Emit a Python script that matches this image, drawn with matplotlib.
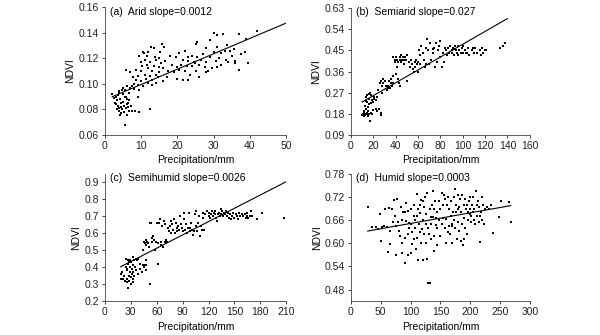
# NDVI vs precipitation in four climate zones, fitted line per zone
import numpy as np
import matplotlib
matplotlib.use('Agg')
import matplotlib.pyplot as plt

# (precipitation mm, NDVI)
arid_pts = np.array([
    (2, 0.092), (2.5, 0.089), (3, 0.084), (3, 0.090), (3.2, 0.087), (3.5, 0.083), (3.5, 0.091),
    (3.8, 0.081), (4, 0.079), (4, 0.094), (4.2, 0.088), (4.3, 0.085), (4.5, 0.077), (4.5, 0.082),
    (4.8, 0.080), (5, 0.086), (5, 0.092), (5, 0.097), (5.2, 0.078), (5.3, 0.083), (5.5, 0.068),
    (5.5, 0.090), (5.6, 0.095), (5.8, 0.081), (5.8, 0.111), (6, 0.084), (6, 0.076), (6.2, 0.088),
    (6.3, 0.082), (6.5, 0.079), (6.5, 0.093), (6.7, 0.087), (6.8, 0.109), (7, 0.097), (7.2, 0.083),
    (7.5, 0.079), (3.8, 0.093), (2.8, 0.085), (4.6, 0.095), (5.9, 0.090), (6.1, 0.098), (4.1, 0.076),
    (3.3, 0.080), (6.4, 0.085),
    (7.5, 0.098), (8, 0.100), (8, 0.096), (8.5, 0.103), (8.5, 0.111), (9, 0.099), (9, 0.106),
    (9.5, 0.122), (9.5, 0.095), (9.2, 0.090), (10, 0.102), (10, 0.110), (10.2, 0.114), (10.5, 0.125),
    (10.5, 0.098), (11, 0.119), (11, 0.107), (11.3, 0.104), (11.5, 0.122), (11.8, 0.101), (12, 0.112),
    (12, 0.125), (12.3, 0.106), (12.5, 0.117), (12.5, 0.080), (12.8, 0.129), (13, 0.103), (13, 0.110),
    (13.5, 0.128), (13.5, 0.114), (14, 0.101), (14, 0.107), (14.2, 0.119), (14.5, 0.105), (14.8, 0.113),
    (15, 0.120), (15, 0.109), (15.5, 0.116), (15.8, 0.131), (16, 0.102), (16, 0.112), (16.3, 0.129),
    (16.5, 0.118), (17, 0.105), (17.5, 0.110), (18, 0.122), (18.5, 0.115), (19, 0.109), (19.5, 0.121),
    (19.8, 0.104), (20, 0.113), (9.5, 0.078), (8.2, 0.079), (11.7, 0.115), (13.8, 0.121), (10.8, 0.124),
    (7.8, 0.105), (9.8, 0.117), (15.2, 0.125), (12.9, 0.099),
    (20.3, 0.124), (20.5, 0.111), (21, 0.115), (21.5, 0.103), (21.5, 0.119), (22, 0.126), (22, 0.110),
    (22.5, 0.114), (23, 0.118), (23, 0.103), (23.5, 0.107), (24, 0.122), (24, 0.114), (24.5, 0.117),
    (25, 0.131), (25, 0.110), (25.5, 0.121), (25.5, 0.133), (26, 0.115), (26, 0.105), (26.5, 0.119),
    (27, 0.123), (27.5, 0.113), (28, 0.128), (28, 0.117), (28.5, 0.110), (29, 0.121), (29, 0.134),
    (29.5, 0.112), (30, 0.140), (30, 0.125), (30.5, 0.118), (31, 0.138), (31, 0.129), (31.5, 0.120),
    (32, 0.115), (32, 0.124), (32.5, 0.139), (33, 0.126), (33.5, 0.119), (34, 0.117), (34.5, 0.126),
    (35, 0.122), (35.5, 0.127), (36, 0.118), (36, 0.116), (37, 0.139), (37, 0.111), (37.5, 0.123),
    (38.5, 0.125), (39, 0.135), (39.5, 0.116), (42, 0.141), (24.8, 0.116), (22.8, 0.121), (27.8, 0.109),
    (30.8, 0.113), (33.8, 0.130),
])

semiarid_pts = np.array([
    (10, 0.175), (11, 0.178), (11.5, 0.172), (12, 0.180), (12, 0.19), (12.5, 0.175), (13, 0.20),
    (13, 0.25), (13.5, 0.18), (14, 0.185), (14, 0.23), (14.5, 0.26), (15, 0.17), (15, 0.21),
    (15.5, 0.19), (16, 0.178), (16, 0.245), (16.5, 0.22), (17, 0.15), (17, 0.27), (17.5, 0.185),
    (18, 0.225), (18, 0.26), (19, 0.24), (19.5, 0.195), (20, 0.23), (20.5, 0.25), (21, 0.245),
    (22, 0.24), (22, 0.20), (23, 0.25), (23.5, 0.19), (24, 0.28), (25, 0.20), (27, 0.175), (27, 0.185),
    (12.8, 0.215), (13.8, 0.235), (11.2, 0.185), (14.8, 0.175), (15.8, 0.265), (10.5, 0.18), (18.5, 0.18),
    (26, 0.31), (27, 0.32), (27.5, 0.30), (28, 0.27), (28.5, 0.33), (29, 0.31), (30, 0.32), (31, 0.30),
    (32, 0.28), (33, 0.30), (33.5, 0.29), (34, 0.32), (35, 0.29), (35.5, 0.31), (36, 0.33), (37, 0.30),
    (37.5, 0.31), (38, 0.42), (38, 0.34), (39, 0.41), (40, 0.42), (40.5, 0.35), (41, 0.41), (42, 0.40),
    (42, 0.33), (43, 0.31), (43.5, 0.42), (44, 0.41), (44, 0.30), (45, 0.43), (45, 0.40), (46, 0.41),
    (46.5, 0.42), (47, 0.39), (47.5, 0.41), (48, 0.42), (49, 0.41), (50, 0.32), (50, 0.43), (39.5, 0.40),
    (41.5, 0.38),
    (52, 0.40), (53, 0.38), (54, 0.41), (55, 0.39), (55.5, 0.37), (56, 0.36), (57, 0.40), (57.5, 0.38),
    (58, 0.41), (59, 0.39), (60, 0.40), (60, 0.36), (61, 0.45), (62, 0.43), (63, 0.47), (64, 0.44),
    (65, 0.41), (66, 0.38), (67, 0.39), (67, 0.46), (68, 0.50), (69, 0.45), (70, 0.39), (71, 0.48),
    (72, 0.41), (73, 0.44), (74, 0.46), (75, 0.38), (76, 0.48), (77, 0.40), (78, 0.45), (79, 0.47),
    (80, 0.49), (80, 0.42), (81, 0.38), (82, 0.44), (83, 0.40), (84, 0.46), (85, 0.45), (86, 0.43),
    (87, 0.46), (88, 0.44), (89, 0.47), (90, 0.45), (90, 0.44), (91, 0.46), (92, 0.43), (93, 0.47),
    (94, 0.45), (95, 0.44), (96, 0.47), (97, 0.45), (98, 0.44), (99, 0.46), (100, 0.47), (100, 0.44),
    (92.5, 0.455), (94.5, 0.44), (96, 0.43), (73.5, 0.455), (62, 0.39),
    (102, 0.45), (104, 0.44), (105, 0.46), (106, 0.43), (108, 0.45), (110, 0.44), (111, 0.46),
    (113, 0.44), (115, 0.45), (116, 0.43), (117, 0.46), (118, 0.44), (120, 0.45), (121, 0.45),
    (133, 0.46), (136, 0.47), (138, 0.48), (103, 0.44), (109, 0.46),
])

semihumid_pts = np.array([
    (18, 0.33), (19, 0.36), (20, 0.37), (21, 0.33), (22, 0.35), (23, 0.32), (24, 0.45), (24, 0.40),
    (25, 0.33), (25.5, 0.38), (26, 0.31), (26.5, 0.44), (27, 0.28), (27, 0.42), (27.5, 0.35), (28, 0.32),
    (28.5, 0.40), (29, 0.37), (29, 0.44), (30, 0.30), (30, 0.34), (30.5, 0.43), (31, 0.39), (31.5, 0.36),
    (32, 0.41), (32.5, 0.33), (33, 0.46), (33, 0.37), (34, 0.44), (34, 0.35), (35, 0.40), (35.5, 0.45),
    (36, 0.38), (37, 0.44), (38, 0.36), (38, 0.45), (40, 0.39), (41, 0.42), (43, 0.37), (44, 0.41),
    (45, 0.40), (46, 0.41), (47, 0.38), (48, 0.41), (28, 0.43), (26, 0.39), (32, 0.31),
    (44, 0.50), (45, 0.55), (46, 0.54), (47, 0.56), (48, 0.53), (49, 0.55), (50, 0.54), (51, 0.52),
    (52, 0.66), (52, 0.30), (53, 0.66), (54, 0.55), (55, 0.57), (56, 0.58), (57, 0.56), (58, 0.50),
    (59, 0.55), (60, 0.66), (61, 0.54), (62, 0.42), (63, 0.66), (64, 0.68), (65, 0.53), (65, 0.55),
    (66, 0.64), (67, 0.52), (68, 0.67), (69, 0.55), (70, 0.65), (71, 0.56), (72, 0.55), (73, 0.63),
    (74, 0.61), (75, 0.64), (76, 0.60), (77, 0.67), (78, 0.65), (79, 0.62), (80, 0.68), (48, 0.44),
    (81, 0.60), (82, 0.66), (83, 0.63), (84, 0.61), (85, 0.64), (86, 0.62), (87, 0.70), (88, 0.65),
    (89, 0.63), (90, 0.61), (91, 0.68), (92, 0.72), (93, 0.62), (94, 0.65), (95, 0.60), (96, 0.63),
    (97, 0.72), (98, 0.61), (99, 0.63), (100, 0.66), (101, 0.62), (102, 0.59), (103, 0.61), (104, 0.71),
    (105, 0.73), (106, 0.64), (107, 0.61), (108, 0.66), (109, 0.70), (110, 0.58), (111, 0.64),
    (112, 0.62), (113, 0.69), (114, 0.72), (115, 0.62), (116, 0.71), (118, 0.73), (120, 0.70),
    (121, 0.72), (122, 0.69), (123, 0.71), (124, 0.73), (125, 0.70), (126, 0.72), (127, 0.71),
    (128, 0.73), (129, 0.69), (130, 0.67), (131, 0.71), (132, 0.72), (133, 0.70), (134, 0.74),
    (135, 0.71), (136, 0.73), (137, 0.70), (138, 0.72), (139, 0.71), (140, 0.73),
    (141, 0.70), (142, 0.72), (144, 0.69), (145, 0.71), (146, 0.68), (147, 0.70), (148, 0.72),
    (150, 0.69), (152, 0.71), (153, 0.70), (155, 0.72), (157, 0.70), (159, 0.71), (160, 0.70),
    (162, 0.71), (163, 0.69), (164, 0.70), (165, 0.72), (166, 0.69), (168, 0.70), (169, 0.73),
    (170, 0.70), (176, 0.68), (182, 0.72), (208, 0.69), (154, 0.68), (143, 0.72),
])

humid_pts = np.array([
    (28, 0.695), (35, 0.641), (42, 0.642), (45, 0.636), (48, 0.676), (50, 0.607), (52, 0.642),
    (55, 0.645), (57, 0.690), (60, 0.642), (62, 0.578), (63, 0.692), (65, 0.632), (66, 0.598),
    (68, 0.688), (70, 0.655), (72, 0.712), (74, 0.672), (75, 0.644), (76, 0.570), (78, 0.715),
    (79, 0.655), (80, 0.633), (82, 0.620), (84, 0.693), (85, 0.600), (86, 0.575), (88, 0.682),
    (90, 0.615), (91, 0.548), (92, 0.657), (93, 0.705), (95, 0.685), (96, 0.570), (97, 0.653),
    (98, 0.640), (100, 0.690), (101, 0.575), (102, 0.630), (103, 0.598), (105, 0.672), (106, 0.700),
    (107, 0.660), (108, 0.640), (109, 0.585), (110, 0.615), (111, 0.728), (112, 0.690), (113, 0.558),
    (114, 0.650), (115, 0.630), (116, 0.678), (117, 0.600), (118, 0.712), (119, 0.638), (120, 0.660),
    (121, 0.557), (122, 0.694), (123, 0.625), (124, 0.720), (125, 0.600), (126, 0.675), (127, 0.730),
    (128, 0.560), (129, 0.640), (130, 0.497), (131, 0.625), (132, 0.497), (133, 0.690), (134, 0.650),
    (135, 0.610), (136, 0.700), (137, 0.667), (138, 0.735), (139, 0.620), (140, 0.580), (141, 0.710),
    (142, 0.648), (143, 0.665), (144, 0.595), (145, 0.680), (147, 0.710), (148, 0.660), (150, 0.690),
    (152, 0.730), (153, 0.650), (155, 0.700), (156, 0.725), (157, 0.640), (158, 0.715), (160, 0.662),
    (161, 0.700), (162, 0.630), (163, 0.720), (164, 0.645), (165, 0.690), (166, 0.625), (167, 0.670),
    (168, 0.710), (169, 0.650), (170, 0.602), (171, 0.680), (172, 0.720), (173, 0.660), (174, 0.742),
    (175, 0.640), (176, 0.700), (177, 0.680), (178, 0.610), (179, 0.725), (180, 0.655), (181, 0.695),
    (182, 0.632), (183, 0.715), (184, 0.605), (185, 0.680), (186, 0.650), (187, 0.725), (188, 0.595),
    (189, 0.700), (190, 0.665), (191, 0.715), (192, 0.640), (193, 0.690), (194, 0.625), (195, 0.700),
    (196, 0.680), (197, 0.660), (198, 0.710), (199, 0.690), (200, 0.675), (201, 0.670), (202, 0.655),
    (203, 0.700), (204, 0.680), (205, 0.720), (206, 0.660), (207, 0.690), (208, 0.650), (210, 0.735),
    (211, 0.700), (212, 0.670), (213, 0.710), (214, 0.655), (215, 0.695), (216, 0.603), (217, 0.670),
    (218, 0.680), (219, 0.720), (220, 0.660), (222, 0.700), (223, 0.650), (225, 0.690), (228, 0.695),
    (232, 0.688), (235, 0.700), (238, 0.628), (248, 0.668), (252, 0.710), (265, 0.706), (268, 0.656),
    (110, 0.670), (120, 0.710), (100, 0.650), (90, 0.680), (130, 0.640), (140, 0.690), (150, 0.620),
    (160, 0.600), (170, 0.645), (180, 0.690), (190, 0.610), (200, 0.720), (85, 0.660), (95, 0.625),
    (105, 0.612), (115, 0.700), (125, 0.650), (135, 0.668), (145, 0.640), (155, 0.665),
])

# fitted lines: intercept, slope per mm, x range drawn
arid_fit = (0.0875, 0.0012, 2, 50)
semiarid_fit = (0.203, 0.00273, 10, 140)
semihumid_fit = (0.355, 0.0026, 18, 210)
humid_fit = (0.624, 0.000275, 28, 268)

titles = ['(a)  Arid slope=0.0012', '(b)  Semiarid slope=0.027',
          '(c)  Semihumid slope=0.0026', '(d)  Humid slope=0.0003']

plt.rcParams['font.family'] = ['Liberation Sans', 'DejaVu Sans']
plt.rcParams['font.size'] = 7.5

fig = plt.figure(figsize=(6, 3.35), dpi=100)
ax_a = fig.add_axes([0.175, 0.597, 0.302, 0.382])
ax_b = fig.add_axes([0.585, 0.597, 0.298, 0.379])
ax_c = fig.add_axes([0.175, 0.101, 0.302, 0.380])
ax_d = fig.add_axes([0.585, 0.101, 0.298, 0.380])

panels = [
    (ax_a, arid_pts, arid_fit, (0, 50), np.arange(0, 51, 10), (0.06, 0.16), np.arange(0.06, 0.161, 0.02), '%.2f'),
    (ax_b, semiarid_pts, semiarid_fit, (0, 160), np.arange(0, 161, 20), (0.09, 0.63), np.arange(0.09, 0.631, 0.09), '%.2f'),
    (ax_c, semihumid_pts, semihumid_fit, (0, 210), np.arange(0, 211, 30), (0.2, 0.947), np.arange(0.2, 0.91, 0.1), '%.1f'),
    (ax_d, humid_pts, humid_fit, (0, 300), np.arange(0, 301, 50), (0.45, 0.78), np.arange(0.48, 0.781, 0.06), '%.2f'),
]

for (ax, pts, fit, xlim, xticks, ylim, yticks, fmt), title in zip(panels, titles):
    ax.plot(pts[:, 0], pts[:, 1], 's', color='black', markersize=1.8, markeredgewidth=0)
    b0, b1, x0, x1 = fit
    xs = np.array([x0, x1])
    ax.plot(xs, b0 + b1 * xs, color='black', linewidth=0.8)
    ax.set_xlim(xlim)
    ax.set_ylim(ylim)
    ax.set_xticks(xticks)
    ax.set_yticks(yticks)
    ax.set_yticklabels([fmt % v for v in yticks])
    ax.spines['top'].set_visible(False)
    ax.spines['right'].set_visible(False)
    for s in ('left', 'bottom'):
        ax.spines[s].set_linewidth(0.6)
        ax.spines[s].set_color('#444444')
    ax.tick_params(direction='out', length=2.5, width=0.6, pad=2, labelsize=7.5, colors='#222222')
    ax.set_xlabel('Precipitation/mm', fontsize=7.5, labelpad=3)
    ax.set_ylabel('NDVI', fontsize=7.5, labelpad=2)
    ax.text(0.03, 0.965, title, transform=ax.transAxes, fontsize=7.5, va='center', ha='left')

fig.savefig('out.png', dpi=100)
